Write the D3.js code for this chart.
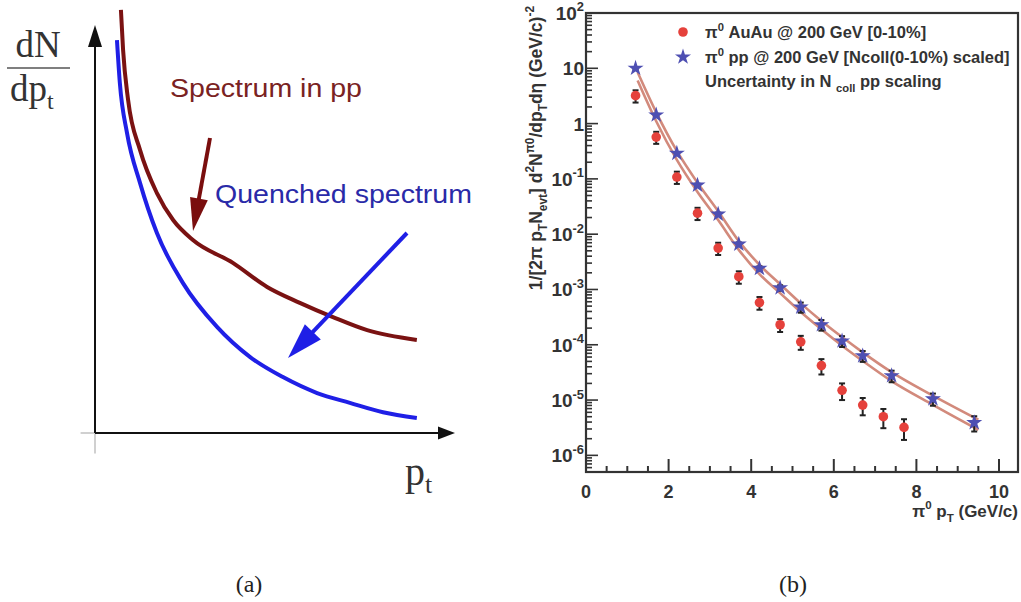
<!DOCTYPE html>
<html>
<head>
<meta charset="utf-8">
<script src="https://cdn.jsdelivr.net/npm/d3@7"></script>
<style>
  body { margin: 0; background: #fff; }
  svg { display: block; }
</style>
</head>
<body>
<div id="chart"></div>
<script>
// ---- panel (a): sketch curves (arbitrary units)
var ppSketchX = [0.72, 0.78, 0.92, 1.25, 1.72, 2.17, 2.72, 3.83, 4.78, 5.69, 6.61, 7.56, 8.94];
var ppSketchY = [10.37, 9.39, 8.16, 6.94, 5.88, 5.22, 4.73, 4.17, 3.58, 3.19, 2.84, 2.52, 2.28];
var quenchedX = [0.61, 0.69, 0.89, 1.25, 1.72, 2.44, 3.39, 4.31, 5.22, 6.17, 7.08, 8.0, 8.94];
var quenchedY = [9.63, 8.58, 7.35, 6.13, 4.90, 3.68, 2.60, 1.86, 1.37, 0.98, 0.74, 0.51, 0.37];

// ---- panel (b): pi0 spectra
var auauPt  = [1.2, 1.7, 2.2, 2.7, 3.2, 3.7, 4.2, 4.7, 5.2, 5.7, 6.2, 6.7, 7.2, 7.7];
var auauVal = [3.2, 0.57, 0.108, 0.024, 0.0056, 0.0017, 5.8e-4, 2.3e-4, 1.13e-4, 4.2e-5, 1.5e-5, 8.1e-6, 5.0e-6, 3.2e-6];
var auauErr = [0.8, 0.14, 0.027, 0.006, 0.0014, 0.00043, 1.5e-4, 6e-5, 3.2e-5, 1.3e-5, 5e-6, 2.8e-6, 1.9e-6, 1.3e-6];

var ppPt  = [1.2, 1.7, 2.2, 2.7, 3.2, 3.7, 4.2, 4.7, 5.2, 5.7, 6.2, 6.7, 7.4, 8.4, 9.4];
var ppVal = [10, 1.43, 0.29, 0.077, 0.023, 0.0066, 0.0024, 0.00107, 4.8e-4, 2.3e-4, 1.17e-4, 6.3e-5, 2.75e-5, 1.05e-5, 3.9e-6];
var ppErr = [0.5, 0.08, 0.016, 0.005, 0.0016, 0.0005, 2.2e-4, 1.2e-4, 1.0e-4, 5e-5, 2.6e-5, 1.4e-5, 6.5e-6, 2.6e-6, 1.2e-6];

var bandPt    = [1.25, 1.7, 2.2, 2.7, 3.2, 3.7, 4.2, 4.7, 5.2, 5.7, 6.2, 6.7, 7.4, 8.4, 9.5];
var bandUpper = [8.5, 1.6, 0.32, 0.085, 0.026, 0.0075, 0.0028, 0.00125, 5.6e-4, 2.7e-4, 1.38e-4, 7.3e-5, 3.2e-5, 1.2e-5, 4.4e-6];
var bandLower = [6.0, 1.1, 0.22, 0.058, 0.018, 0.0052, 0.0019, 8.6e-4, 3.9e-4, 1.9e-4, 9.6e-5, 5.1e-5, 2.2e-5, 8.2e-6, 2.9e-6];

var xTicks = [0, 2, 4, 6, 8, 10];
var yDecades = [-6, -5, -4, -3, -2, -1, 0, 1, 2];

var svg = d3.select("#chart").append("svg")
    .attr("width", 1021)
    .attr("height", 602);

// helper: text with sup/sub pieces
function richText(sel, parts, size) {
    var shift = 0;
    parts.forEach(function(p) {
        var target = p.sup ? -size * 0.45 : (p.sub ? size * 0.28 : 0);
        var ts = sel.append("tspan").text(p.t).attr("dy", target - shift);
        if (p.sup || p.sub) ts.style("font-size", (size * 0.68) + "px");
        shift = target;
    });
}

function arrow(g, x1, y1, x2, y2, color, headLen, headW, sw) {
    var dx = x2 - x1, dy = y2 - y1, len = Math.sqrt(dx * dx + dy * dy);
    var ux = dx / len, uy = dy / len;
    var bx = x2 - ux * headLen, by = y2 - uy * headLen;
    g.append("line")
        .attr("x1", x1).attr("y1", y1).attr("x2", bx + ux * 2).attr("y2", by + uy * 2)
        .attr("stroke", color).attr("stroke-width", sw);
    g.append("path")
        .attr("d", "M" + x2 + "," + y2 +
            "L" + (bx - uy * headW / 2) + "," + (by + ux * headW / 2) +
            "L" + (bx + uy * headW / 2) + "," + (by - ux * headW / 2) + "Z")
        .attr("fill", color);
}

/* ================= panel (a) ================= */
var ga = svg.append("g");
var xs = d3.scaleLinear().domain([0, 10]).range([95, 455]);
var ys = d3.scaleLinear().domain([0, 10]).range([433, 25]);

// faint axis extensions
ga.append("line").attr("x1", xs(0)).attr("x2", xs(0)).attr("y1", ys(0)).attr("y2", ys(-0.5))
    .attr("stroke", "#d0d0d0").attr("stroke-width", 2);
ga.append("line").attr("x1", xs(-0.4)).attr("x2", xs(0)).attr("y1", ys(0)).attr("y2", ys(0))
    .attr("stroke", "#d0d0d0").attr("stroke-width", 2);

arrow(ga, xs(0), ys(0), xs(0), ys(10), "#111", 22, 14, 2);
arrow(ga, xs(0), ys(0), xs(10), ys(0), "#111", 17, 13, 2);

var sketchLine = d3.line()
    .x(function(d) { return xs(d[0]); })
    .y(function(d) { return ys(d[1]); })
    .curve(d3.curveMonotoneX);

ga.append("path")
    .attr("d", sketchLine(d3.zip(quenchedX, quenchedY)))
    .attr("fill", "none").attr("stroke", "#1f1fe6").attr("stroke-width", 4);
ga.append("path")
    .attr("d", sketchLine(d3.zip(ppSketchX, ppSketchY)))
    .attr("fill", "none").attr("stroke", "#7a1212").attr("stroke-width", 4);

arrow(ga, 210, 138, 193, 231, "#7a0e0e", 33, 18, 4);
arrow(ga, 407, 233, 288, 358, "#1f1fe6", 36, 22, 4);

ga.append("text").attr("x", 170).attr("y", 97)
    .attr("textLength", 192).attr("lengthAdjust", "spacingAndGlyphs")
    .style("font-family", "Liberation Sans, Arial, sans-serif").style("font-size", "25px")
    .attr("fill", "#7a2222").text("Spectrum in pp");
ga.append("text").attr("x", 215).attr("y", 203)
    .attr("textLength", 257).attr("lengthAdjust", "spacingAndGlyphs")
    .style("font-family", "Liberation Sans, Arial, sans-serif").style("font-size", "26px")
    .attr("fill", "#2a2aa8").text("Quenched spectrum");

// dN/dp_t label
var serif = "Liberation Serif, Times New Roman, serif";
ga.append("text").attr("x", 38).attr("y", 57).attr("text-anchor", "middle")
    .style("font-family", serif).style("font-size", "37px").attr("fill", "#333").text("dN");
ga.append("line").attr("x1", 7).attr("x2", 70).attr("y1", 68).attr("y2", 68)
    .attr("stroke", "#555").attr("stroke-width", 1.5);
var dp = ga.append("text").attr("x", 10).attr("y", 101)
    .style("font-family", serif).style("font-size", "37px").attr("fill", "#333");
dp.append("tspan").text("dp");
dp.append("tspan").text("t").attr("dy", 8).style("font-size", "24px");

var ptl = ga.append("text").attr("x", 405).attr("y", 485)
    .style("font-family", serif).style("font-size", "40px").attr("fill", "#333");
ptl.append("tspan").text("p");
ptl.append("tspan").text("t").attr("dy", 8).style("font-size", "26px");

/* ================= panel (b) ================= */
var gb = svg.append("g");
var sans = "Liberation Sans, Arial, Helvetica, sans-serif";
var ink = "#333";

var x = d3.scaleLinear().domain([0, 10.46]).range([586, 1018]);
var y = d3.scaleLog().domain([5e-7, 100]).range([472, 13]);

// minor/major ticks x
var xMinor = d3.range(0, 10.01, 0.5);
gb.selectAll(".xt").data(xMinor).enter().append("line")
    .attr("x1", function(d) { return x(d); }).attr("x2", function(d) { return x(d); })
    .attr("y1", 472)
    .attr("y2", function(d) { return 472 - (d % 2 === 0 ? 13 : 6); })
    .attr("stroke", ink).attr("stroke-width", 2);

// ticks y (log)
var yTickVals = [];
yDecades.forEach(function(e) {
    for (var k = 1; k <= 9; k++) yTickVals.push({ v: k * Math.pow(10, e), major: k === 1 });
});
for (var k = 5; k <= 9; k++) yTickVals.push({ v: k * 1e-7, major: false });
yTickVals = yTickVals.filter(function(d) { return d.v >= 5e-7 && d.v <= 100; });
gb.selectAll(".yt").data(yTickVals).enter().append("line")
    .attr("x1", 586)
    .attr("x2", function(d) { return 586 + (d.major ? 12 : 6); })
    .attr("y1", function(d) { return y(d.v); }).attr("y2", function(d) { return y(d.v); })
    .attr("stroke", ink).attr("stroke-width", 1.6);

// frame
gb.append("rect").attr("x", 586).attr("y", 13).attr("width", 432).attr("height", 459)
    .attr("fill", "none").attr("stroke", ink).attr("stroke-width", 2.2);

// x tick labels
gb.selectAll(".xl").data(xTicks).enter().append("text")
    .attr("x", function(d) { return x(d); }).attr("y", 498)
    .attr("text-anchor", "middle")
    .style("font-family", sans).style("font-size", "18px").style("font-weight", "bold")
    .attr("fill", ink).text(function(d) { return d; });

// y tick labels
yDecades.forEach(function(e) {
    var t = gb.append("text").attr("x", 584).attr("y", y(Math.pow(10, e)) + 7)
        .attr("text-anchor", "end")
        .style("font-family", sans).style("font-size", "19px").style("font-weight", "bold")
        .attr("fill", ink);
    if (e === 0) t.text("1");
    else if (e === 1) t.text("10");
    else richText(t, [{ t: "10" }, { t: String(e), sup: true }], 19);
});

// axis titles
var xt = gb.append("text").attr("x", 1018).attr("y", 517).attr("text-anchor", "end")
    .style("font-family", sans).style("font-size", "17px").style("font-weight", "bold").attr("fill", ink);
richText(xt, [{ t: "π" }, { t: "0", sup: true }, { t: " p" }, { t: "T", sub: true }, { t: " (GeV/c)" }], 17);

var yt = gb.append("text").attr("transform", "translate(542,6) rotate(-90)").attr("text-anchor", "end")
    .style("font-family", sans).style("font-size", "17.5px").style("font-weight", "bold").attr("fill", ink);
richText(yt, [
    { t: "1/[2π p" }, { t: "T", sub: true }, { t: "N" }, { t: "evt", sub: true }, { t: "] d" },
    { t: "2", sup: true }, { t: "N" }, { t: "π0", sup: true }, { t: "/dp" }, { t: "T", sub: true },
    { t: "dη (GeV/c)" }, { t: "-2", sup: true }
], 17.5);

// uncertainty band lines
var bandLine = d3.line()
    .x(function(d) { return x(d[0]); })
    .y(function(d) { return y(d[1]); })
    .curve(d3.curveMonotoneX);
[bandUpper, bandLower].forEach(function(arr) {
    gb.append("path").attr("d", bandLine(d3.zip(bandPt, arr)))
        .attr("fill", "none").attr("stroke", "#d28a7c").attr("stroke-width", 2.6);
});

// error bars
function errBars(pts, vals, errs) {
    var data = d3.zip(pts, vals, errs);
    var g = gb.append("g").attr("stroke", "#222").attr("stroke-width", 2);
    g.selectAll("line.v").data(data).enter().append("line")
        .attr("x1", function(d) { return x(d[0]); }).attr("x2", function(d) { return x(d[0]); })
        .attr("y1", function(d) { return y(d[1] + d[2]); })
        .attr("y2", function(d) { return y(d[1] - d[2]); });
    g.selectAll("line.c1").data(data).enter().append("line")
        .attr("x1", function(d) { return x(d[0]) - 3; }).attr("x2", function(d) { return x(d[0]) + 3; })
        .attr("y1", function(d) { return y(d[1] + d[2]); }).attr("y2", function(d) { return y(d[1] + d[2]); });
    g.selectAll("line.c2").data(data).enter().append("line")
        .attr("x1", function(d) { return x(d[0]) - 3; }).attr("x2", function(d) { return x(d[0]) + 3; })
        .attr("y1", function(d) { return y(d[1] - d[2]); }).attr("y2", function(d) { return y(d[1] - d[2]); });
}
errBars(auauPt, auauVal, auauErr);
errBars(ppPt, ppVal, ppErr);

var red = "#e5413b", blue = "#4e4fb2";
var star = d3.symbol().type(d3.symbolStar).size(80);

gb.selectAll(".au").data(d3.zip(auauPt, auauVal)).enter().append("circle")
    .attr("cx", function(d) { return x(d[0]); }).attr("cy", function(d) { return y(d[1]); })
    .attr("r", 4.8).attr("fill", red);
gb.selectAll(".pp").data(d3.zip(ppPt, ppVal)).enter().append("path")
    .attr("d", star)
    .attr("transform", function(d) { return "translate(" + x(d[0]) + "," + y(d[1]) + ")"; })
    .attr("fill", blue);

// legend
gb.append("circle").attr("cx", 683).attr("cy", 32).attr("r", 4.8).attr("fill", red);
gb.append("path").attr("d", star).attr("transform", "translate(683,57)").attr("fill", blue);
var legLines = [
    [{ t: "π" }, { t: "0", sup: true }, { t: " AuAu @ 200 GeV [0-10%]" }],
    [{ t: "π" }, { t: "0", sup: true }, { t: " pp @ 200 GeV [Ncoll(0-10%) scaled]" }],
    [{ t: "Uncertainty in N " }, { t: "coll", sub: true }, { t: " pp scaling" }]
];
var legY = [38, 63, 87];
legLines.forEach(function(parts, i) {
    var t = gb.append("text").attr("x", 705).attr("y", legY[i])
        .style("font-family", sans).style("font-size", "16.5px").style("font-weight", "bold").attr("fill", ink);
    richText(t, parts, 16.5);
});

// captions
svg.append("text").attr("x", 249).attr("y", 592).attr("text-anchor", "middle")
    .style("font-family", serif).style("font-size", "24px").attr("fill", "#222").text("(a)");
svg.append("text").attr("x", 793).attr("y", 592).attr("text-anchor", "middle")
    .style("font-family", serif).style("font-size", "24px").attr("fill", "#222").text("(b)");
</script>
</body>
</html>
